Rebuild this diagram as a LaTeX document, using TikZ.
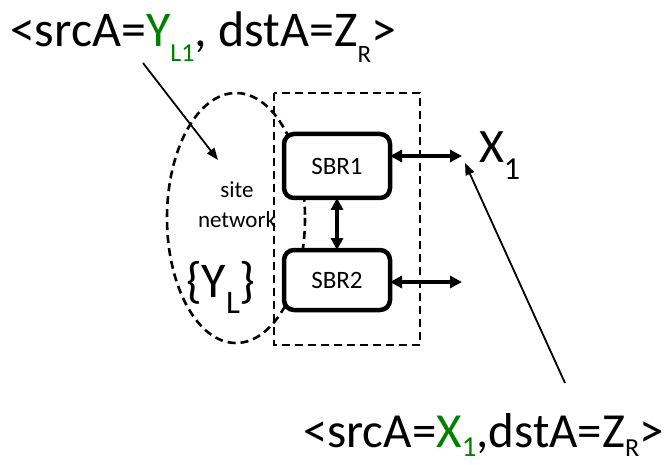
\documentclass[tikz,border=0pt]{standalone}
\usepackage{fontspec}
\setmainfont{Carlito}
\usetikzlibrary{arrows.meta}
\definecolor{grn}{RGB}{0,128,0}
\newcommand\lowsub[3]{\smash{\raisebox{-#1pt}{\fontsize{#2}{#2}\selectfont #3}}}
\tikzset{
  lbl/.style={inner sep=0pt, outer sep=0pt, anchor=base west},
  dashline/.style={line width=2.6pt, dash pattern=on 8pt off 5pt},
  sbr/.style={draw, fill=white, line width=4.5pt, rounded corners=10pt, inner sep=0pt, outer sep=0pt, minimum width=106pt, font=\fontsize{25}{25}\selectfont},
  dbl/.style={line width=3.6pt, {Triangle[length=12pt,width=12pt]}-{Triangle[length=12pt,width=12pt]}},
  thin/.style={line width=1.8pt, -{Triangle[length=12pt,width=9pt]}}
}
\begin{document}
\begin{tikzpicture}[x=1pt,y=-1pt]
\useasboundingbox (0,0) rectangle (669,465);
% site network ellipse
\draw[dashline] (236,218) ellipse [x radius=69, y radius=125];
% dashed enclosure
\draw[dashline] (274,93) rectangle (420,345);
% SBR boxes
\node[sbr, minimum height=64pt] (sbr1) at (337,166) {SBR1};
\node[sbr, minimum height=60pt] (sbr2) at (337,280) {SBR2};
% labels
\node[lbl] (top) at (10,47) {\fontsize{50}{50}\selectfont <srcA=\textcolor{grn}{Y\lowsub{15}{26}{L1}}, dstA=Z\lowsub{16}{25}{R}>};
\node[lbl] (bot) at (303,447) {\fontsize{49}{49}\selectfont <srcA=\textcolor{grn}{X\lowsub{9}{29}{1}},dstA=Z\lowsub{9}{26}{R}>};
\node[lbl] (x1) at (479,163) {\fontsize{48}{48}\selectfont X\lowsub{17}{32}{1}};
\node[lbl] (yl) at (186,297) {\fontsize{50}{50}\selectfont \{Y\lowsub{16}{33}{L}\}};
\node[inner sep=0pt, align=center, font=\fontsize{23}{30}\selectfont] (site) at (237,205) {site\\network};
% coordinates for free ends
\coordinate (r1) at (462,156);
\coordinate (r2) at (462,282);
\coordinate (a1s) at (143,63);
\coordinate (a1e) at (218,160);
\coordinate (a2s) at (565,383);
\coordinate (a2e) at (465,163);
% connectors
\draw[dbl] (r1 -| sbr1.east) -- (r1);
\draw[dbl] (r2 -| sbr2.east) -- (r2);
\draw[dbl] (sbr1.south) -- (sbr2.north);
\draw[thin] (a1s) -- (a1e);
\draw[thin] (a2s) -- (a2e);
\end{tikzpicture}
\end{document}
